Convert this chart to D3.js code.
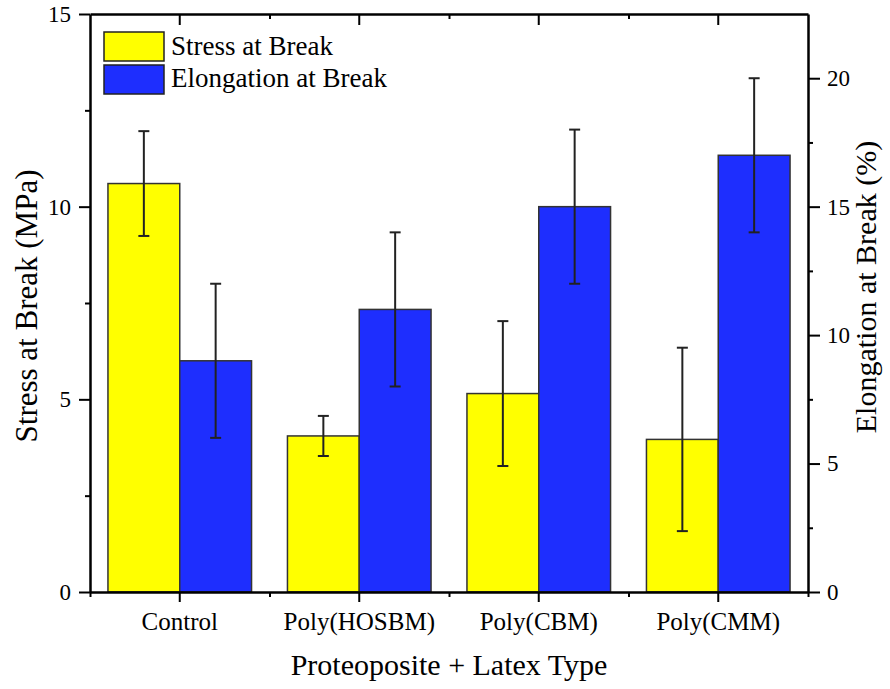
<!DOCTYPE html>
<html><head><meta charset="utf-8">
<script src="https://cdn.jsdelivr.net/npm/d3@7/dist/d3.min.js"></script>
</head><body style="margin:0;background:#fff;font-family:'Times New Roman','Liberation Serif',serif">
<svg id="c" width="890" height="689" style="display:block;font-family:'Times New Roman','Liberation Serif',serif"></svg>
<script>
const categories = ["Control", "Poly(HOSBM)", "Poly(CBM)", "Poly(CMM)"];
const stress = [10.6, 4.05, 5.15, 3.96];
const stressErr = [1.36, 0.52, 1.88, 2.38];
const elong = [9.0, 11.0, 15.0, 17.0];
const elongErr = [3.0, 3.0, 3.0, 3.0];
const leftTicks = [0, 5, 10, 15];
const leftMinor = [2.5, 7.5, 12.5];
const rightTicks = [0, 5, 10, 15, 20];
const rightMinor = [2.5, 7.5, 12.5, 17.5];
const seriesNames = ["Stress at Break", "Elongation at Break"];
const colors = ["#FFFF00", "#1E2EFE"];

const FONT = "'Times New Roman', 'Liberation Serif', serif";
const L = 90, R = 808, T = 14, B = 592;
const svg = d3.select("#c");

const x = d3.scaleBand().domain(categories).range([L, R]).padding(0);
const yL = d3.scaleLinear().domain([0, 15]).range([B, T]);
const yR = d3.scaleLinear().domain([0, 22.5]).range([B, T]);
const bw = x.bandwidth() * 0.4;
const cx = c => x(c) + x.bandwidth() / 2;

// bars
const g = svg.append("g");
g.selectAll("rect.s").data(categories).enter().append("rect")
  .attr("x", c => cx(c) - bw).attr("width", bw)
  .attr("y", (c, i) => yL(stress[i])).attr("height", (c, i) => B - yL(stress[i]))
  .attr("fill", colors[0]).attr("stroke", "#333").attr("stroke-width", 1.5);
g.selectAll("rect.e").data(categories).enter().append("rect")
  .attr("x", c => cx(c)).attr("width", bw)
  .attr("y", (c, i) => yR(elong[i])).attr("height", (c, i) => B - yR(elong[i]))
  .attr("fill", colors[1]).attr("stroke", "#333").attr("stroke-width", 1.5);

// error bars
function errBars(vals, errs, scale, offset) {
  const eg = svg.append("g").attr("stroke", "#222").attr("stroke-width", 2).attr("fill", "none");
  categories.forEach((c, i) => {
    const xc = cx(c) + offset;
    const y1 = scale(vals[i] + errs[i]), y0 = scale(vals[i] - errs[i]);
    eg.append("line").attr("x1", xc).attr("x2", xc).attr("y1", y1).attr("y2", y0);
    eg.append("line").attr("x1", xc - 5.5).attr("x2", xc + 5.5).attr("y1", y1).attr("y2", y1);
    eg.append("line").attr("x1", xc - 5.5).attr("x2", xc + 5.5).attr("y1", y0).attr("y2", y0);
  });
}
errBars(stress, stressErr, yL, -bw / 2);
errBars(elong, elongErr, yR, bw / 2);

// axes
function styleAxis(sel, fs) {
  sel.attr("font-family", null).attr("font-size", null);
  sel.selectAll(".domain").attr("stroke", "#000").attr("stroke-width", 2.5);
  sel.selectAll(".tick line").attr("stroke", "#000").attr("stroke-width", 2);
  sel.selectAll("text").attr("font-family", FONT).style("font-family", FONT).style("font-size", fs + "px").attr("fill", "#000");
}
const boundaries = categories.map(c => x(c)).concat([R]);
const xLin = d3.scaleLinear().domain([L, R]).range([L, R]);

// bottom
const gb = svg.append("g").attr("transform", `translate(0,${B})`)
  .call(d3.axisBottom(x).tickSize(10).tickSizeOuter(0).tickPadding(10));
styleAxis(gb, 25);
svg.append("g").attr("transform", `translate(0,${B})`)
  .call(d3.axisBottom(xLin).tickValues(boundaries).tickSize(5).tickFormat(""))
  .call(s => { s.select(".domain").remove(); styleAxis(s, 0); });
// top
const gt = svg.append("g").attr("transform", `translate(0,${T})`)
  .call(d3.axisTop(x).tickSize(-11).tickSizeOuter(0).tickFormat(""));
styleAxis(gt, 0);
svg.append("g").attr("transform", `translate(0,${T})`)
  .call(d3.axisTop(xLin).tickValues(boundaries.slice(1, -1)).tickSize(-5).tickFormat(""))
  .call(s => { s.select(".domain").remove(); styleAxis(s, 0); });
// left
const gl = svg.append("g").attr("transform", `translate(${L},0)`)
  .call(d3.axisLeft(yL).tickValues(leftTicks).tickSize(11).tickSizeOuter(0).tickPadding(8).tickFormat(d3.format("d")));
styleAxis(gl, 23);
svg.append("g").attr("transform", `translate(${L},0)`)
  .call(d3.axisLeft(yL).tickValues(leftMinor).tickSize(5).tickFormat(""))
  .call(s => { s.select(".domain").remove(); styleAxis(s, 0); });
// right
const gr = svg.append("g").attr("transform", `translate(${R},0)`)
  .call(d3.axisRight(yR).tickValues(rightTicks).tickSize(12).tickSizeOuter(0).tickPadding(7).tickFormat(d3.format("d")));
styleAxis(gr, 23);
svg.append("g").attr("transform", `translate(${R},0)`)
  .call(d3.axisRight(yR).tickValues(rightMinor).tickSize(5).tickFormat(""))
  .call(s => { s.select(".domain").remove(); styleAxis(s, 0); });

// titles
function txt(sel, fs) { return sel.attr("font-family", FONT).style("font-family", FONT).style("font-size", fs + "px").attr("fill", "#000"); }
txt(svg.append("text"), 30).attr("x", (L + R) / 2).attr("y", 675).attr("text-anchor", "middle")
  .text("Proteoposite + Latex Type");
txt(svg.append("text"), 31).attr("transform", "translate(37,306) rotate(-90)").attr("text-anchor", "middle")
  .text("Stress at Break (MPa)");
txt(svg.append("text"), 30).attr("transform", "translate(876,287) rotate(-90)").attr("text-anchor", "middle")
  .text("Elongation at Break (%)");

// legend
seriesNames.forEach((n, i) => {
  svg.append("rect").attr("x", 104).attr("y", 32 + i * 33).attr("width", 60).attr("height", 29)
    .attr("fill", colors[i]).attr("stroke", "#222").attr("stroke-width", 1.5);
  txt(svg.append("text"), 27).attr("x", 171).attr("y", 54.5 + i * 32).text(n);
});
</script>
</body></html>
